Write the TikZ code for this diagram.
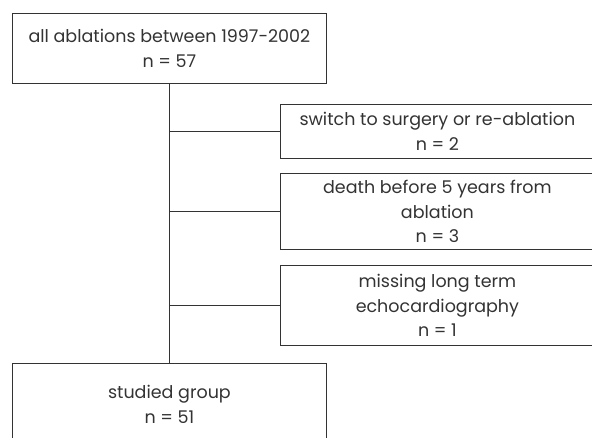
\documentclass[tikz,border=0pt]{standalone}
\usepackage{fontspec}
\setmainfont{Poppins}
\usetikzlibrary{positioning}

\begin{document}
\begin{tikzpicture}[
        x=1pt, y=-1pt,
        every node/.style={align=center, font=\fontsize{17.5}{24.5}\selectfont, text=black!80},
        flowbox/.style={draw=black!80, line width=0.8pt, anchor=north west, minimum width=314pt, inner sep=0pt},
        link/.style={draw=black!80, line width=0.8pt}
    ]
        \useasboundingbox (0,0) rectangle (592,437);
        \clip (0,0) rectangle (592,437);

        \node[flowbox, minimum height=70pt] (all) at (12,13) {all ablations between 1997-2002\\n = 57};
        \node[flowbox, minimum height=54pt] (switch) at (280,104) {switch to surgery or re-ablation\\n = 2};
        \node[flowbox, minimum height=76pt] (death) at (280,173) {death before 5 years from\\ablation\\n = 3};
        \node[flowbox, minimum height=80pt] (missing) at (280,265) {missing long term\\echocardiography\\n = 1};
        \node[flowbox, minimum height=82pt] (studied) at (12,363) {studied group\\n = 51};

        \draw[link] (all.south) -- (studied.north);
        \draw[link] (all.south |- switch.west) -- (switch.west);
        \draw[link] (all.south |- death.west) -- (death.west);
        \draw[link] (all.south |- missing.west) -- (missing.west);
    \end{tikzpicture}
\end{document}
